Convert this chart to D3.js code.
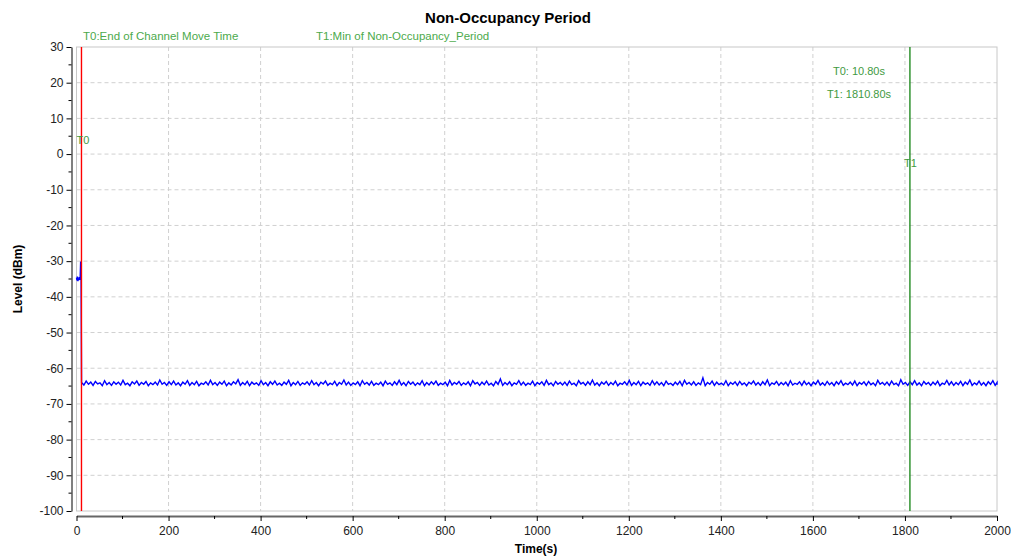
<!DOCTYPE html>
<html>
<head>
<meta charset="utf-8">
<script src="https://cdn.jsdelivr.net/npm/d3@7"></script>
<style>
body { margin: 0; background: #fff; }
text { font-family: Arial, "Liberation Sans", sans-serif; }
</style>
</head>
<body>
<script>
// level before the end of channel move (1 s steps from 0 s)
var preLevel = [-34.6, -35.4, -34.3, -35.6, -34.8, -35.3, -34.5, -35.2, -34.7, -30.1, -35.0];
// level after T0 (5 s steps from 11 s)
var postStart = 11, postStep = 5;
var postLevel = [
-64.0,-64.7,-63.6,-64.5,-63.9,-64.8,-63.7,-64.4,-64.1,-64.9,-63.5,-64.6,-64.0,-64.8,-63.8,-64.5,-63.9,-64.7,-63.4,-64.6,
-64.2,-64.9,-63.8,-64.4,-63.6,-64.8,-64.0,-64.5,-63.7,-64.9,-64.1,-64.6,-63.9,-64.7,-63.3,-64.5,-64.0,-64.8,-63.8,-64.6,
-63.6,-64.7,-64.1,-64.9,-63.9,-64.5,-63.5,-64.8,-64.0,-64.6,-63.7,-64.9,-64.2,-64.5,-63.8,-64.7,-63.4,-64.6,-64.0,-64.8,
-63.9,-64.5,-63.6,-64.9,-64.1,-64.7,-63.8,-64.4,-63.2,-64.8,-64.0,-64.6,-63.7,-64.9,-63.9,-64.5,-64.1,-64.8,-63.5,-64.6,
-64.0,-64.9,-63.8,-64.5,-63.6,-64.7,-64.2,-64.8,-63.9,-64.5,-63.4,-64.9,-64.0,-64.6,-63.7,-64.8,-64.1,-64.5,-63.8,-64.7,
-63.5,-64.6,-64.0,-64.9,-63.9,-64.4,-63.6,-64.8,-64.2,-64.6,-63.7,-64.9,-64.0,-64.5,-63.3,-64.7,-63.9,-64.8,-64.1,-64.6,
-63.8,-64.9,-63.5,-64.5,-64.0,-64.7,-63.7,-64.8,-64.2,-64.6,-63.9,-64.9,-63.6,-64.5,-64.1,-64.8,-63.8,-64.6,-63.4,-64.7,
-64.0,-64.9,-63.7,-64.5,-63.9,-64.8,-64.1,-64.6,-63.5,-64.9,-64.0,-64.7,-63.8,-64.5,-63.6,-64.8,-64.2,-64.6,-63.9,-64.9,
-63.4,-64.7,-64.0,-64.5,-63.7,-64.8,-64.1,-64.6,-63.8,-64.9,-63.5,-64.4,-64.0,-64.8,-63.9,-64.6,-63.6,-64.7,-64.2,-64.9,
-63.7,-64.5,-63.0,-64.8,-64.0,-64.6,-63.8,-64.9,-64.1,-64.5,-63.5,-64.7,-63.9,-64.8,-64.2,-64.6,-63.6,-64.9,-64.0,-64.5,
-63.8,-64.8,-63.4,-64.6,-64.1,-64.9,-63.7,-64.5,-64.0,-64.7,-63.9,-64.8,-63.6,-64.6,-64.2,-64.9,-63.5,-64.4,-64.0,-64.8,
-63.8,-64.6,-63.3,-64.7,-64.1,-64.9,-63.9,-64.5,-63.7,-64.8,-64.0,-64.6,-63.6,-64.9,-64.2,-64.5,-63.8,-64.7,-63.4,-64.8,
-64.0,-64.6,-63.7,-64.9,-63.9,-64.5,-64.1,-64.8,-63.5,-64.6,-63.8,-64.7,-64.0,-64.9,-63.6,-64.5,-64.2,-64.8,-63.9,-64.6,
-63.7,-64.9,-63.4,-64.5,-64.0,-64.7,-63.8,-64.8,-64.1,-64.6,-62.7,-64.9,-64.0,-64.5,-63.6,-64.8,-63.9,-64.6,-64.2,-64.7,
-63.5,-64.9,-64.0,-64.5,-63.8,-64.8,-63.7,-64.6,-64.1,-64.9,-63.9,-64.4,-63.6,-64.7,-64.0,-64.8,-63.8,-64.6,-63.3,-64.9,
-64.1,-64.5,-63.7,-64.8,-64.0,-64.6,-63.9,-64.9,-63.5,-64.7,-64.2,-64.5,-63.8,-64.8,-63.6,-64.6,-64.0,-64.9,-63.9,-64.5,
-63.4,-64.7,-64.1,-64.8,-63.7,-64.6,-64.0,-64.9,-63.8,-64.5,-63.5,-64.8,-64.2,-64.6,-63.9,-64.7,-63.6,-64.9,-64.0,-64.5,
-63.8,-64.8,-63.7,-64.6,-64.1,-64.9,-63.4,-64.5,-64.0,-64.7,-63.9,-64.8,-63.6,-64.6,-64.2,-64.9,-63.2,-64.5,-64.0,-64.8,
-63.8,-64.6,-63.5,-64.7,-64.1,-64.9,-63.7,-64.5,-64.0,-64.8,-63.9,-64.6,-63.6,-64.9,-64.2,-64.5,-63.4,-64.7,-63.8,-64.8,
-64.0,-64.6,-63.7,-64.9,-63.9,-64.5,-63.3,-64.8,-64.1,-64.6,-63.6,-64.7,-64.0,-64.9,-63.8,-64.5,-63.5,-64.8,-64.0,-64.6
];
var markers = [
    {name: "T0", time: 10.80, level: 4, color: "#ff0000", labelDx: -5},
    {name: "T1", time: 1810.80, level: -2.5, color: "#228b22", labelDx: -6}
];
var legendLabels = ["T0:End of Channel Move Time", "T1:Min of Non-Occupancy_Period"];
var xTicks = [0, 200, 400, 600, 800, 1000, 1200, 1400, 1600, 1800, 2000];
var yTicks = [30, 20, 10, 0, -10, -20, -30, -40, -50, -60, -70, -80, -90, -100];

var data = [];
preLevel.forEach(function(v, i) { data.push({t: i, v: v}); });
postLevel.forEach(function(v, i) { data.push({t: Math.min(postStart + i * postStep, 2000), v: v}); });

var W = 1011, H = 557;
var pLeft = 76.5, pRight = 997, pTop = 47, pBottom = 511;

var svg = d3.select('body').append('svg')
    .attr('width', W)
    .attr('height', H);

var x = d3.scaleLinear().domain([0, 2000]).range([pLeft, pRight]);
var y = d3.scaleLinear().domain([-100, 30]).range([pBottom, pTop]);

// grid
svg.append('g').selectAll('line')
    .data(xTicks.filter(function(d) { return d > 0 && d < 2000; }))
    .enter().append('line')
    .attr('x1', function(d) { return x(d); })
    .attr('x2', function(d) { return x(d); })
    .attr('y1', pTop).attr('y2', pBottom)
    .attr('stroke', '#d0d0d0')
    .attr('stroke-dasharray', '4,3');
svg.append('g').selectAll('line')
    .data(yTicks.filter(function(d) { return d > -100 && d < 30; }))
    .enter().append('line')
    .attr('y1', function(d) { return y(d); })
    .attr('y2', function(d) { return y(d); })
    .attr('x1', pLeft).attr('x2', pRight)
    .attr('stroke', '#d0d0d0')
    .attr('stroke-dasharray', '4,3');

svg.append('rect')
    .attr('x', pLeft).attr('y', pTop)
    .attr('width', pRight - pLeft).attr('height', pBottom - pTop)
    .attr('fill', 'none')
    .attr('stroke', '#c8c8c8');

// y axis
var yAxis = d3.axisLeft(y).tickValues(yTicks).tickFormat(function(d) { return String(d); })
    .tickSize(5).tickPadding(3).tickSizeOuter(0);
var gy = svg.append('g').attr('transform', 'translate(71.5,0)').call(yAxis);
gy.select('.domain').attr('stroke', '#000');
gy.selectAll('text').attr('font-size', 12).attr('fill', '#222')
    .attr('font-family', 'Arial, "Liberation Sans", sans-serif');
gy.append('g').selectAll('line')
    .data(d3.range(25, -100, -10))
    .enter().append('line')
    .attr('x1', -3).attr('x2', 0)
    .attr('y1', function(d) { return y(d); })
    .attr('y2', function(d) { return y(d); })
    .attr('stroke', '#000');

// x axis
var xAxis = d3.axisBottom(x).tickValues(xTicks).tickFormat(function(d) { return String(d); })
    .tickSize(5).tickPadding(5).tickSizeOuter(0);
var gx = svg.append('g').attr('transform', 'translate(0,516)').call(xAxis);
gx.select('.domain').attr('stroke', '#666').attr('stroke-width', 2);
gx.selectAll('text').attr('font-size', 12).attr('fill', '#222')
    .attr('font-family', 'Arial, "Liberation Sans", sans-serif');
gx.append('g').selectAll('line')
    .data(d3.range(100, 2000, 200))
    .enter().append('line')
    .attr('x1', function(d) { return x(d); })
    .attr('x2', function(d) { return x(d); })
    .attr('y1', 0).attr('y2', 3)
    .attr('stroke', '#000');

// signal
var path = d3.line()
    .x(function(d) { return x(d.t); })
    .y(function(d) { return y(d.v); });
svg.append('path')
    .datum(data)
    .attr('d', path)
    .attr('fill', 'none')
    .attr('stroke', '#0000ff')
    .attr('stroke-width', 1.4);

// markers
svg.append('g').selectAll('line')
    .data(markers)
    .enter().append('line')
    .attr('x1', function(d) { return x(d.time); })
    .attr('x2', function(d) { return x(d.time); })
    .attr('y1', pTop).attr('y2', pBottom)
    .style('stroke', function(d) { return d.color; })
    .style('stroke-width', 1.4);

svg.selectAll('.tname')
    .data(markers)
    .enter().append('text')
    .attr('class', 'tname')
    .text(function(d) { return d.name; })
    .attr('x', function(d) { return x(d.time) + d.labelDx; })
    .attr('y', function(d) { return y(d.level) + 4; })
    .attr('font-size', 11)
    .attr('fill', '#3f9a3f');

svg.selectAll('.tval')
    .data(markers)
    .enter().append('text')
    .attr('class', 'tval')
    .text(function(d) { return d.name + ": " + d.time.toFixed(2) + "s"; })
    .attr('x', 859)
    .attr('y', function(d, i) { return 75 + i * 23; })
    .attr('text-anchor', 'middle')
    .attr('font-size', 11)
    .attr('fill', '#3f9a3f');

svg.selectAll('.legend')
    .data(legendLabels)
    .enter().append('text')
    .attr('class', 'legend')
    .text(function(d) { return d; })
    .attr('x', function(d, i) { return i == 0 ? 83 : 316; })
    .attr('y', 40)
    .attr('font-size', 11.5)
    .attr('fill', '#4caa4c');

svg.append('text')
    .text('Non-Occupancy Period')
    .attr('x', 508).attr('y', 23)
    .attr('text-anchor', 'middle')
    .attr('font-size', 15)
    .attr('font-weight', 'bold');

svg.append('text')
    .text('Level (dBm)')
    .attr('transform', 'translate(22,279) rotate(-90)')
    .attr('text-anchor', 'middle')
    .attr('font-size', 12)
    .attr('font-weight', 'bold');

svg.append('text')
    .text('Time(s)')
    .attr('x', 536).attr('y', 553)
    .attr('text-anchor', 'middle')
    .attr('font-size', 12)
    .attr('font-weight', 'bold');
</script>
</body>
</html>
